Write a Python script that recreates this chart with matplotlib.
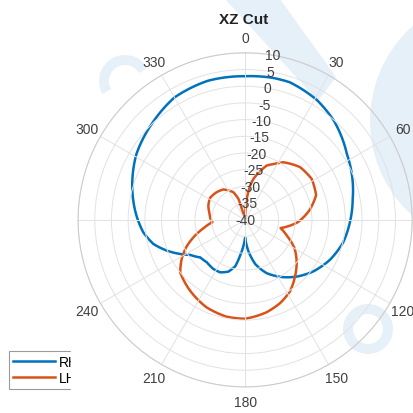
import numpy as np
import matplotlib.pyplot as plt
from matplotlib.lines import Line2D
from matplotlib.path import Path
from matplotlib.patches import Circle, Wedge, Rectangle, Polygon, PathPatch

plt.rcParams['font.family'] = ['Liberation Sans', 'DejaVu Sans']
plt.rcParams['axes.unicode_minus'] = False

rhcp_angle = [0, 11, 18, 31, 42, 57, 69, 79, 91, 103, 115, 127, 137.5, 146,
              158, 167, 174, 180, 184, 188, 192, 198, 205.5, 213, 222, 230,
              237.5, 242.4, 248.6, 255.3, 263, 272, 281, 290, 301, 316, 330,
              345, 360]
rhcp_gain = [3.0, 3.3, 3.3, 1.8, -0.2, -3.7, -5.6, -7.2, -8.6, -9.9, -11.9,
             -14.4, -17.0, -19.3, -22.8, -26.4, -30.6, -34.7, -32.0, -29.2,
             -25.8, -23.7, -22.6, -22.5, -22.9, -22.5, -20.5, -18.0, -14.8,
             -11.6, -9.3, -7.5, -5.8, -4.1, -2.0, 0.1, 2.3, 3.1, 3.0]

lhcp_angle = [0, 4.5, 8.3, 11.5, 21.7, 28, 33.6, 46.2, 58.4, 70.8, 81.4, 92.5,
              103, 110.6, 120, 129.5, 140, 148, 157, 167, 180, 191, 204, 219,
              231, 238.4, 245, 251, 258, 266, 272, 280, 291, 302, 314, 324.5,
              330, 337, 342.4, 343.5, 347, 360]
lhcp_gain = [-39.5, -33.7, -29.6, -27.5, -22.5, -21.0, -19.3, -17.2, -16.6,
             -17.5, -20.5, -24.2, -29.1, -26.7, -22.9, -20.0, -17.0, -14.7,
             -13.0, -11.6, -10.4, -10.5, -11.4, -13.3, -15.0, -17.7, -20.5,
             -23.5, -27.0, -30.2, -29.6, -29.2, -28.2, -27.6, -28.1, -28.8,
             -29.8, -31.0, -33.4, -36.6, -40.0, -39.5]

series_names = ['RHCP', 'LHCP']
series_colors = ['#0072BD', '#D95319']
theta_ticks = list(range(0, 360, 30))
theta_labels = ['' if t in (90, 270) else str(t) for t in theta_ticks]
r_ticks = list(range(-40, 11, 5))

W, H = 413, 414
fig = plt.figure(figsize=(W / 100, H / 100), dpi=100)

# faint watermark in the background
bg = fig.add_axes([0, 0, 1, 1], zorder=-1)
bg.set_xlim(0, W)
bg.set_ylim(H, 0)
bg.axis('off')
wm = '#e6f0f9'
bg.add_patch(Circle((497, 122), 127, color=wm, lw=0))
bg.add_patch(Polygon([(225, 0), (280, 0), (336, 78), (318, 102)], color=wm, lw=0))
bg.add_patch(Wedge((368, 330), 25, 0, 360, width=10, color=wm, lw=0))
bg.add_patch(Wedge((125, 82), 26, 150, 330, width=10, color=wm, lw=0))

ax = fig.add_axes([0.189, 0.063, 0.809, 0.807], projection='polar')
ax.set_facecolor('none')
ax.set_theta_zero_location('N')
ax.set_theta_direction(-1)
ax.set_rlim(-40, 10)

handles = []
for ang, gain, col in [(rhcp_angle, rhcp_gain, series_colors[0]),
                       (lhcp_angle, lhcp_gain, series_colors[1])]:
    verts = np.column_stack([np.deg2rad(ang), gain])
    # steps > 1 lets the polar transform bend each segment
    path = Path(verts, _interpolation_steps=40)
    ax.add_patch(PathPatch(path, fill=False, edgecolor=col, lw=1.8,
                           joinstyle='round', capstyle='round'))
    handles.append(Line2D([], [], color=col, lw=1.8))

ax.set_rlim(-40, 10)
ax.set_rticks(r_ticks)
ax.set_yticklabels([])
ax.set_thetagrids(theta_ticks, theta_labels)
ax.grid(color='#e2e2e2', lw=0.7)
ax.spines['polar'].set_color('#cccccc')
ax.spines['polar'].set_linewidth(0.8)
ax.tick_params(axis='x', pad=0.5, labelsize=10, labelcolor='#404040')

for r in r_ticks:
    ax.text(np.deg2rad(9.5), r, str(r), ha='center', va='center',
            fontsize=10, color='#404040')

fig.text(244 / W, 1 - 20 / H, 'XZ Cut', ha='center', va='center',
         fontsize=11, fontweight='bold', color='#222222')

leg = fig.legend(handles, series_names, loc='upper left',
                 bbox_to_anchor=(9 / W, 1 - 352 / H),
                 fancybox=False, edgecolor='#9a9a9a', fontsize=10,
                 handlelength=3.0, borderaxespad=0, borderpad=0.3,
                 labelspacing=0.15, handletextpad=0.3, framealpha=1)
leg.get_frame().set_linewidth(0.8)

# the legend is cut off on the right in the source
fig.patches.append(Rectangle((71 / W, 1 - 396 / H), 50 / W, 50 / H,
                             transform=fig.transFigure, color='white',
                             zorder=20))

fig.savefig('out.png', dpi=100)
